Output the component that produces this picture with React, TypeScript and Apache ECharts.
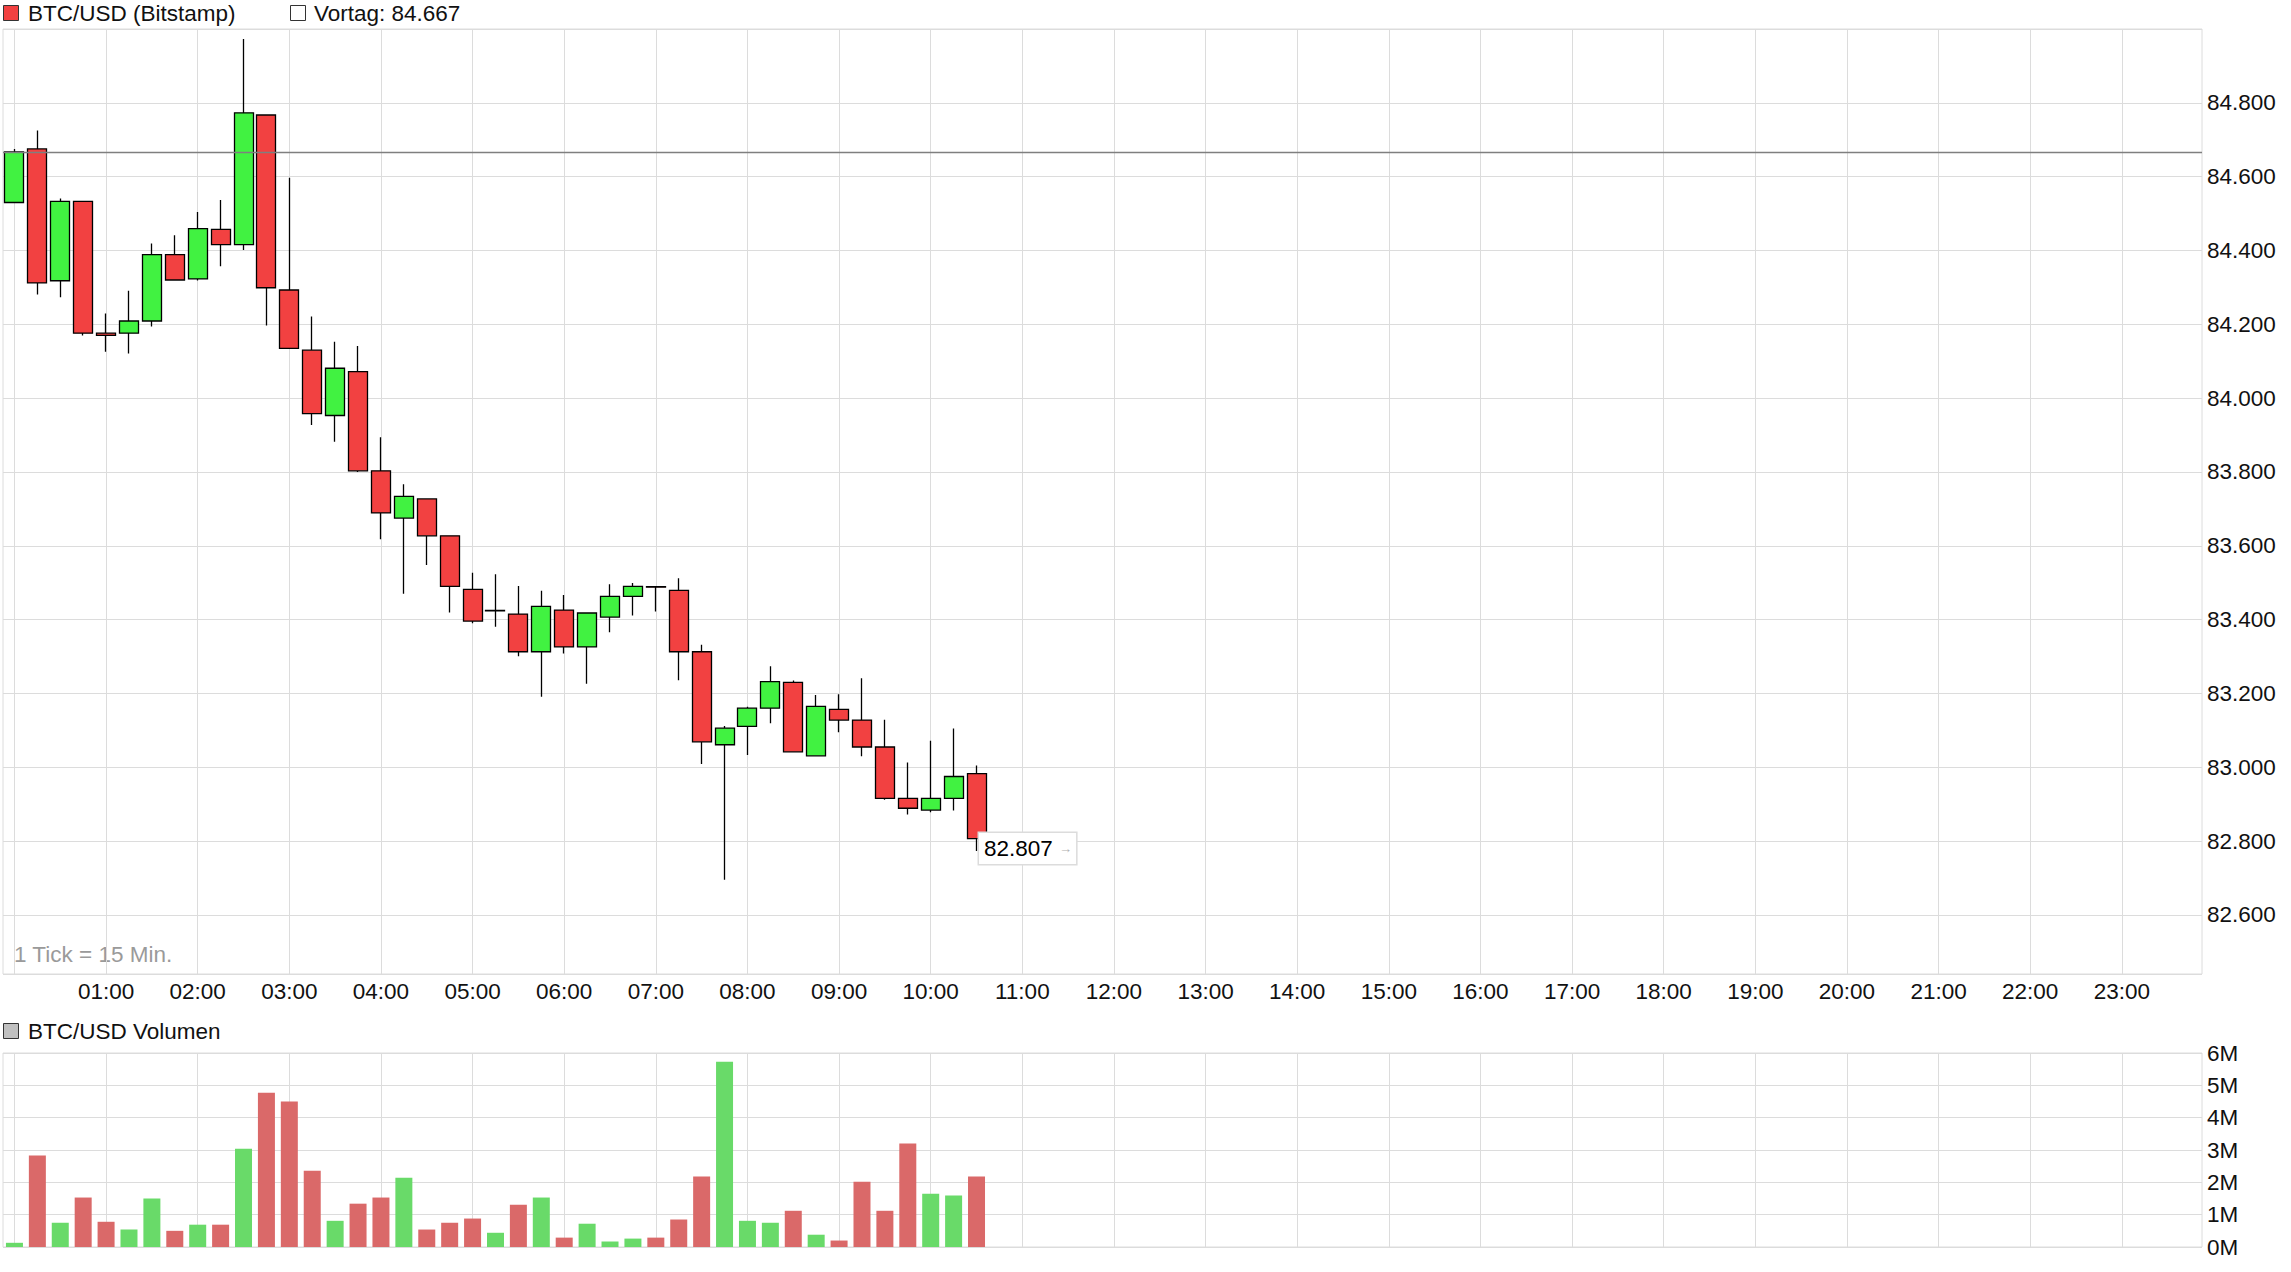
import React, { useEffect, useRef } from "react";
import * as echarts from "echarts";

const FONT = "'Liberation Sans', Arial, Helvetica, sans-serif";
const FS = 22.5;

// 15-minute categories 00:00 .. 23:45
const TIMES: string[] = [];
for (let h = 0; h < 24; h++) {
  for (let m = 0; m < 60; m += 15) {
    TIMES.push(`${String(h).padStart(2, "0")}:${String(m).padStart(2, "0")}`);
  }
}

const OPEN = [
  84530, 84675, 84318, 84533, 84176, 84176, 84209, 84389, 84323, 84457,
  84416, 84767, 84293, 84130, 83953, 84072, 83803, 83675, 83727, 83627,
  83482, 83424, 83415, 83313, 83426, 83326, 83407, 83463, 83489, 83479,
  83313, 83061, 83111, 83160, 83230, 83031, 83157, 83128, 83055, 82916,
  82884, 82916, 82983,
];
const CLOSE = [
  84667, 84312, 84533, 84176, 84170, 84209, 84389, 84320, 84459, 84416,
  84773, 84299, 84135, 83958, 84081, 83803, 83689, 83734, 83627, 83490,
  83396, 83425, 83313, 83436, 83326, 83418, 83463, 83490, 83488, 83313,
  83069, 83106, 83160, 83232, 83042, 83165, 83128, 83055, 82916, 82889,
  82916, 82975, 82807,
];
const LOW = [
  84530, 84281, 84273, 84170, 84126, 84121, 84194, 84318, 84319, 84357,
  84401, 84197, 84133, 83927, 83882, 83800, 83618, 83470, 83548, 83419,
  83390, 83381, 83301, 83191, 83308, 83226, 83366, 83411, 83422, 83236,
  83009, 82695, 83033, 83119, 83040, 83030, 83095, 83030, 82912, 82872,
  82878, 82883, 82773,
];
const HIGH = [
  84675, 84725, 84541, 84535, 84229, 84291, 84419, 84441, 84504, 84537,
  84973, 84769, 84597, 84221, 84153, 84141, 83894, 83767, 83729, 83628,
  83527, 83523, 83491, 83478, 83467, 83419, 83496, 83499, 83490, 83512,
  83332, 83112, 83164, 83274, 83235, 83196, 83198, 83241, 83129, 83013,
  83072, 83105, 83005,
];
// volume in millions
const VOLUME = [
  0.13, 2.83, 0.75, 1.53, 0.78, 0.54, 1.5, 0.5, 0.69, 0.69,
  3.04, 4.77, 4.5, 2.36, 0.81, 1.34, 1.53, 2.14, 0.54, 0.75,
  0.88, 0.44, 1.31, 1.53, 0.29, 0.72, 0.17, 0.26, 0.29, 0.85,
  2.18, 5.73, 0.81, 0.75, 1.12, 0.38, 0.2, 2.02, 1.12, 3.2,
  1.65, 1.59, 2.18,
];
const VORTAG = 84667;

const PRICE_TICKS = { min: 82440, max: 85000, step: 200 };
const VOLUME_TICKS = { min: 0, max: 6, step: 1 };

const UP = "#41f241";
const DOWN = "#f24141";
const VOL_UP = "#69da69";
const VOL_DOWN = "#da6969";
const GRID_LINE = "#dcdcdc";

const fmtDE = (v: number) =>
  Math.round(v)
    .toString()
    .replace(/\B(?=(\d{3})+(?!\d))/g, ".");

export default function App() {
  const ref = useRef<HTMLDivElement>(null);

  useEffect(() => {
    if (!ref.current) return;
    const chart = echarts.init(ref.current, undefined, { renderer: "svg" });
    const last = CLOSE.length - 1;

    const hourSplit = {
      show: true,
      interval: (i: number) => i % 4 === 0,
      alignWithLabel: true,
      lineStyle: { color: GRID_LINE, width: 1 },
    };

    const option: any = {
      animation: false,
      textStyle: { fontFamily: FONT },
      grid: [
        { left: 3, right: 89, top: 29, height: 945, show: true, borderColor: GRID_LINE, borderWidth: 1 },
        { left: 3, right: 89, top: 1053, height: 194, show: true, borderColor: GRID_LINE, borderWidth: 1 },
      ],
      xAxis: [
        {
          type: "category",
          gridIndex: 0,
          data: TIMES,
          boundaryGap: true,
          axisLine: { show: false },
          axisTick: { show: false },
          axisLabel: {
            interval: (i: number) => i > 0 && i % 4 === 0,
            fontSize: FS,
            color: "#111",
            margin: 6,
            fontFamily: FONT,
          },
          splitLine: hourSplit,
        },
        {
          type: "category",
          gridIndex: 1,
          data: TIMES,
          boundaryGap: true,
          axisLine: { show: false },
          axisTick: { show: false },
          axisLabel: { show: false },
          splitLine: hourSplit,
        },
      ],
      yAxis: [
        {
          type: "value",
          gridIndex: 0,
          position: "right",
          min: PRICE_TICKS.min,
          max: PRICE_TICKS.max,
          splitNumber: 12,
          minInterval: PRICE_TICKS.step,
          maxInterval: PRICE_TICKS.step,
          axisLine: { show: false },
          axisTick: { show: false },
          axisLabel: {
            fontSize: FS,
            color: "#111",
            margin: 5,
            showMinLabel: false,
            showMaxLabel: false,
            fontFamily: FONT,
            formatter: (v: number) => fmtDE(v),
          },
          splitLine: { show: true, lineStyle: { color: GRID_LINE, width: 1 } },
        },
        {
          type: "value",
          gridIndex: 1,
          position: "right",
          min: VOLUME_TICKS.min,
          max: VOLUME_TICKS.max,
          interval: VOLUME_TICKS.step,
          axisLine: { show: false },
          axisTick: { show: false },
          axisLabel: {
            fontSize: FS,
            color: "#111",
            margin: 5,
            fontFamily: FONT,
            formatter: (v: number) => `${v}M`,
          },
          splitLine: { show: true, lineStyle: { color: GRID_LINE, width: 1 } },
        },
      ],
      series: [
        {
          name: "BTC/USD (Bitstamp)",
          type: "candlestick",
          xAxisIndex: 0,
          yAxisIndex: 0,
          barWidth: 19.5,
          data: OPEN.map((o, i) => [o, CLOSE[i], LOW[i], HIGH[i]]),
          itemStyle: {
            color: UP,
            color0: DOWN,
            borderColor: "#000",
            borderColor0: "#000",
            borderWidth: 1.3,
          },
          markLine: {
            silent: true,
            symbol: ["none", "none"],
            label: { show: false },
            lineStyle: { color: "#7f7f7f", width: 1.3, type: "solid" },
            data: [{ yAxis: VORTAG }],
          },
          markPoint: {
            silent: true,
            symbol: "rect",
            symbolSize: 1,
            itemStyle: { color: "rgba(0,0,0,0)" },
            data: [{ coord: [TIMES[last], CLOSE[last]], value: CLOSE[last] }],
            label: {
              show: true,
              position: [3, -5],
              formatter: () => `${fmtDE(CLOSE[last])} {arr|→}`,
              fontSize: FS,
              lineHeight: 25,
              color: "#000",
              fontFamily: FONT,
              backgroundColor: "#fff",
              borderColor: "#dcdcdc",
              borderWidth: 1.5,
              padding: [3, 4, 3, 5],
              rich: {
                arr: { fontSize: 13, color: "#b0b0b0", fontFamily: FONT, lineHeight: 25 },
              },
            },
          },
        },
        {
          name: "BTC/USD Volumen",
          type: "bar",
          xAxisIndex: 1,
          yAxisIndex: 1,
          barWidth: 17,
          data: VOLUME.map((v, i) => ({
            value: v,
            itemStyle: { color: CLOSE[i] >= OPEN[i] ? VOL_UP : VOL_DOWN },
          })),
        },
      ],
      graphic: [
        {
          type: "rect",
          shape: { x: 3.5, y: 5.5, width: 15, height: 15 },
          style: { fill: DOWN, stroke: "#333", lineWidth: 1 },
        },
        {
          type: "text",
          x: 28,
          y: 13,
          style: { text: "BTC/USD (Bitstamp)", fontSize: FS, fontFamily: FONT, fill: "#111", verticalAlign: "middle" },
        },
        {
          type: "rect",
          shape: { x: 290.5, y: 5.5, width: 15, height: 15 },
          style: { fill: "#fff", stroke: "#333", lineWidth: 1 },
        },
        {
          type: "text",
          x: 314,
          y: 13,
          style: { text: `Vortag: ${fmtDE(VORTAG)}`, fontSize: FS, fontFamily: FONT, fill: "#111", verticalAlign: "middle" },
        },
        {
          type: "text",
          x: 14,
          y: 954,
          style: { text: "1 Tick = 15 Min.", fontSize: FS, fontFamily: FONT, fill: "#9a9a9a", verticalAlign: "middle" },
        },
        {
          type: "rect",
          shape: { x: 3.5, y: 1023.5, width: 15, height: 15 },
          style: { fill: "#c0c0c0", stroke: "#333", lineWidth: 1 },
        },
        {
          type: "text",
          x: 28,
          y: 1031,
          style: { text: "BTC/USD Volumen", fontSize: FS, fontFamily: FONT, fill: "#111", verticalAlign: "middle" },
        },
      ],
    };

    chart.setOption(option);
    return () => chart.dispose();
  }, []);

  return (
    <div
      ref={ref}
      style={{ position: "fixed", left: 0, top: 0, width: 2291, height: 1272, background: "#fff" }}
    />
  );
}
